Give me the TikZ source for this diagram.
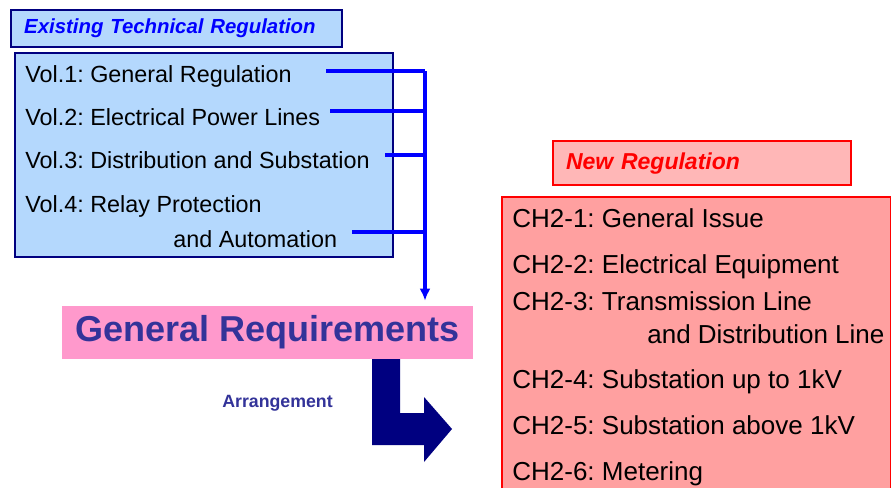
\documentclass[tikz,border=0pt]{standalone}
\usepackage{fontspec}
\setmainfont{Liberation Sans}
\usetikzlibrary{calc,arrows.meta}
\frenchspacing

\definecolor{lightblue}{RGB}{180,216,253}
\definecolor{navyline}{RGB}{0,0,128}
\definecolor{busblue}{RGB}{0,0,255}
\definecolor{reqpink}{RGB}{255,153,204}
\definecolor{reqtext}{RGB}{51,51,153}
\definecolor{lightred}{RGB}{255,183,183}
\definecolor{salmon}{RGB}{255,160,160}

\tikzset{
    bluebox/.style={draw=navyline,line width=1.4pt,fill=lightblue},
    redbox/.style={draw=red,line width=1.2pt,fill=salmon},
    vol/.style={anchor=base west,inner sep=0pt,font=\fontsize{13.3}{15}\selectfont},
    chap/.style={anchor=base west,inner sep=0pt,font=\fontsize{14.8}{17}\selectfont},
    bus/.style={draw=busblue,line width=1.9pt}
}

\begin{document}
\begin{tikzpicture}[x=0.02cm,y=-0.02cm]
    \useasboundingbox (0,0) rectangle (891,487);
    % old regulation
    \node[bluebox,anchor=north west,text width=6.1cm,inner xsep=0.26cm,minimum height=0.74cm,align=left,text=busblue,font=\fontsize{11.6}{13}\selectfont\bfseries\itshape] (oldtitle) at (10,9) {Existing Technical Regulation};
    \node[bluebox,anchor=north west,minimum width=7.56cm,minimum height=4.08cm] (oldreg) at (14,52) {};
    \node[vol] (vol1) at (25,82) {Vol.1: General Regulation};
    \node[vol] (vol2) at (25,125) {Vol.2: Electrical Power Lines};
    \node[vol] (vol3) at (25,168) {Vol.3: Distribution and Substation};
    \node[vol] (vol4) at (25,212) {Vol.4: Relay Protection};
    \node[vol] (vol4b) at (173,247) {and Automation};
    \coordinate (b1) at (326,71);
    \coordinate (b2) at (330,111);
    \coordinate (b3) at (385,155);
    \coordinate (b4) at (352,232);
    \coordinate (j1) at (425,71);
    \draw[bus] (b1) -- (j1);
    \draw[bus] (b2) -- (b2 -| j1);
    \draw[bus] (b3) -- (b3 -| j1);
    \draw[bus] (b4) -- (b4 -| j1);
    % general requirements
    \node[fill=reqpink,minimum width=8.22cm,minimum height=1.06cm,inner sep=0pt,text=reqtext,font=\fontsize{20.5}{24}\selectfont\bfseries] (genreq) at (267.5,332.5) {\raisebox{-2.5pt}{General Requirements}};
    \draw[bus,-{Latex[length=12*0.02cm,width=11*0.02cm]},shorten >=5*0.02cm] (j1) -- (j1 |- genreq.north);
    \fill[navyline] (372,359) -- (400,359) -- (400,413) -- (424,413) -- (424,397) -- (452,429) -- (424,462) -- (424,445) -- (372,445) -- cycle;
    \node[text=reqtext,font=\fontsize{10.1}{12}\selectfont\bfseries] (arrange) at (277.5,403) {Arrangement};
    % new regulation
    \node[draw=red,line width=1.2pt,fill=lightred,anchor=north west,text width=5.44cm,inner xsep=0.26cm,minimum height=0.88cm,align=left,text=red,font=\fontsize{13.1}{15}\selectfont\bfseries\itshape] (newtitle) at (552,140) {New Regulation};
    \node[redbox,anchor=north west,minimum width=7.78cm,minimum height=6cm] (newreg) at (501,196) {};
    \node[chap] (ch1) at (512,227) {CH2-1: General Issue};
    \node[chap] (ch2) at (512,273) {CH2-2: Electrical Equipment};
    \node[chap] (ch3) at (512,310) {CH2-3: Transmission Line};
    \node[chap] (ch3b) at (647,343) {and Distribution Line};
    \node[chap] (ch4) at (512,388) {CH2-4: Substation up to 1kV};
    \node[chap] (ch5) at (512,434) {CH2-5: Substation above 1kV};
    \node[chap] (ch6) at (512,480) {CH2-6: Metering};
\end{tikzpicture}
\end{document}
